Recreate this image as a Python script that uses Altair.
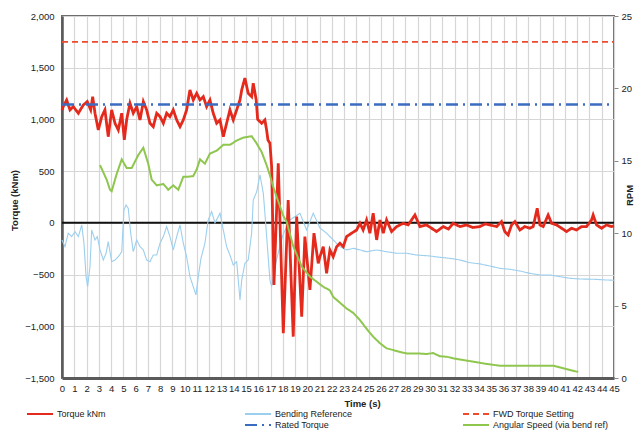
import altair as alt
import pandas as pd

# ---------------- data ----------------
time_ticks = list(range(0, 46))
torque_ticks = [-1500, -1000, -500, 0, 500, 1000, 1500, 2000]
rpm_ticks = [0, 5, 10, 15, 20, 25]

# legend entries are laid out column by column (2 rows x 3 columns)
series_names = ["Torque kNm", " ", "Bending Reference", "Rated Torque",
                "FWD Torque Setting", "Angular Speed (via bend ref)"]
series_colors = ["#e42a1c", "transparent", "#9ccfee", "#3b6cc1", "#ee4b2e", "#8ec64e"]
series_dashes = [[1, 0], [1, 0], [1, 0], [12, 5, 2, 5], [6, 4], [1, 0]]

fwd_setting = 1750
rated_torque = 1145

torque_points = [
    (0, 1090), (0.1, 1124), (0.38, 1188), (0.65, 1092), (0.92, 1124), (1.33, 1060),
    (1.74, 1140), (2.06, 1172), (2.34, 1092), (2.5, 1220), (2.69, 1060), (2.96, 898),
    (3.24, 1027), (3.5, 1092), (3.77, 833), (4.05, 1092), (4.32, 963), (4.59, 898),
    (4.87, 1060), (5.08, 802), (5.27, 995), (5.54, 1157), (5.81, 1060), (6.09, 1124),
    (6.36, 995), (6.63, 1172), (6.9, 1092), (7.17, 963), (7.44, 930), (7.72, 1060),
    (7.99, 1027), (8.26, 963), (8.53, 1060), (8.8, 1027), (9.07, 1092), (9.35, 995),
    (9.62, 930), (9.89, 995), (10.16, 1092), (10.43, 1285), (10.7, 1188), (10.98, 1253),
    (11.25, 1188), (11.52, 1220), (11.79, 1124), (12.06, 1188), (12.33, 1060), (12.61, 963),
    (12.88, 995), (13.15, 833), (13.42, 963), (13.69, 1092), (13.96, 995), (14.24, 1092),
    (14.51, 1188), (14.65, 1285), (14.91, 1400), (15.18, 1253), (15.46, 1220), (15.59, 1350),
    (15.83, 1190), (15.95, 1000), (16.28, 963), (16.54, 995), (16.68, 898), (16.79, 800),
    (16.95, 770), (17.09, 543), (17.28, -600), (17.63, 576), (18.04, -1068), (18.44, 220),
    (18.85, -1100), (19.13, 60), (19.54, -907), (19.8, -133), (20.21, -649), (20.54, -100),
    (20.89, -391), (21.03, -327), (21.3, -230), (21.57, -487), (21.84, -262), (22.11, -327),
    (22.39, -230), (22.66, -197), (22.93, -230), (23.2, -133), (23.61, -100), (24.02, -69),
    (24.29, -4), (24.55, -69), (24.83, 28), (25.1, -100), (25.37, 93), (25.65, -165),
    (25.92, 28), (26.19, -100), (26.46, 28), (26.87, -84), (27.28, -36), (27.82, -4),
    (28.22, -20), (28.77, 76), (29.18, -36), (29.72, -20), (30.1, -50), (30.54, -84),
    (31.08, -36), (31.5, -60), (31.89, -4), (32.44, -36), (32.98, -20), (33.5, -45),
    (34.07, -36), (34.5, -10), (34.88, -20), (35.43, -36), (35.83, 12), (36.1, -85),
    (36.37, -117), (36.65, -20), (36.92, 12), (37.33, -69), (37.73, -36), (38.14, -52),
    (38.41, -36), (38.74, 141), (38.96, -20), (39.23, -36), (39.63, 76), (39.91, -4),
    (40.32, -20), (40.73, -52), (41.13, -84), (41.54, -52), (41.94, -69), (42.35, -36),
    (42.76, -36), (43.17, 28), (43.3, 76), (43.58, -20), (43.98, -52), (44.39, -20),
    (44.8, -36), (45, -30),
]

bending_points = [
    (0, -165), (0.24, -230), (0.51, -100), (0.79, -133), (1.06, -85), (1.33, -133),
    (1.61, -20), (1.79, -197), (1.96, -520), (2.09, -617), (2.28, -424), (2.42, -69),
    (2.69, -165), (2.88, -133), (3.1, -262), (3.37, -359), (3.59, -294), (3.77, -182),
    (4.05, -375), (4.32, -359), (4.59, -327), (4.87, -279), (5.05, 125), (5.22, 173),
    (5.4, 141), (5.6, -100), (5.81, -279), (6.09, -165), (6.36, -230), (6.63, -262),
    (6.9, -359), (7.17, -375), (7.44, -311), (7.72, -311), (7.99, -197), (8.26, -133),
    (8.53, -36), (8.8, -133), (9.07, -262), (9.35, -133), (9.62, -20), (9.89, -197),
    (10.16, -327), (10.43, -520), (10.7, -617), (10.92, -697), (11.11, -520), (11.33, -343),
    (11.65, -197), (11.92, 28), (12.2, 108), (12.47, 0), (12.88, 93), (13.15, -69),
    (13.42, -230), (13.69, -311), (13.96, -407), (14.24, -375), (14.51, -745), (14.65, -552),
    (14.91, -391), (15.18, -359), (15.46, -100), (15.59, 220), (15.87, 300), (16.14, 463),
    (16.41, 286), (16.54, 95), (16.79, -300), (16.95, -552), (17.09, -617), (17.5, -350),
    (18.0, -120), (18.58, 28), (19.4, 93), (19.94, -69), (20.48, 93), (21.03, -50),
    (21.57, -100), (22.11, -165), (22.66, -230), (23.2, -262), (23.74, -246), (24.29, -262),
    (24.83, -279), (25.65, -262), (26.46, -279), (27.28, -294), (28.09, -294), (28.91, -311),
    (29.99, -320), (30.81, -333), (31.62, -343), (32.44, -359), (33.25, -385), (34.07, -397),
    (34.88, -417), (35.7, -440), (36.51, -449), (37.33, -465), (38.14, -488), (38.96, -504),
    (39.77, -504), (40.59, -520), (41.4, -536), (42.22, -543), (43.3, -545), (44.34, -552),
    (45.0, -555),
]

speed_points = [
    (3.1, 14.7), (3.64, 13.7), (3.91, 13.0), (4.05, 12.9), (4.46, 14.1), (4.87, 15.1),
    (5.27, 14.5), (5.68, 14.5), (6.22, 15.4), (6.63, 15.9), (7.03, 14.8), (7.31, 13.7),
    (7.72, 13.3), (8.26, 13.4), (8.66, 13.0), (9.07, 13.3), (9.48, 13.0), (9.89, 13.9),
    (10.29, 13.9), (10.7, 13.95), (10.98, 14.4), (11.25, 15.1), (11.65, 14.8), (12.06, 15.5),
    (12.61, 15.7), (13.15, 16.1), (13.69, 16.1), (14.24, 16.4), (14.78, 16.6), (15.46, 16.7),
    (15.87, 16.2), (16.28, 15.6), (16.68, 14.7), (16.95, 14.0), (17.22, 13.2), (17.63, 12.2),
    (18.04, 11.2), (18.31, 10.8), (18.85, 9.1), (19.54, 7.7), (20.21, 7.0), (20.76, 6.65),
    (21.3, 6.3), (21.84, 6.05), (22.11, 5.6), (22.66, 5.2), (23.2, 4.8), (23.74, 4.5),
    (24.29, 4.0), (24.83, 3.4), (25.37, 2.85), (25.92, 2.4), (26.46, 2.05), (27.0, 1.93),
    (27.55, 1.8), (28.09, 1.7), (28.91, 1.7), (29.72, 1.66), (30.26, 1.72), (30.81, 1.5),
    (31.35, 1.47), (31.89, 1.36), (32.71, 1.24), (33.52, 1.13), (34.61, 0.97), (35.7, 0.85),
    (36.78, 0.85), (37.87, 0.85), (39.23, 0.85), (40.04, 0.85), (40.86, 0.67), (41.67, 0.5),
    (42.08, 0.42),
]


def frame(points, name, col):
    return pd.DataFrame({"t": [p[0] for p in points],
                         col: [p[1] for p in points],
                         "series": name})


torque_df = frame(torque_points, "Torque kNm", "v")
bending_df = frame(bending_points, "Bending Reference", "v")
speed_df = frame(speed_points, "Angular Speed (via bend ref)", "rpm")
fwd_df = pd.DataFrame({"t": [0, 45], "v": [fwd_setting, fwd_setting], "series": "FWD Torque Setting"})
rated_df = pd.DataFrame({"t": [0, 45], "v": [rated_torque, rated_torque], "series": "Rated Torque"})
zero_df = pd.DataFrame({"v": [0]})

FONT = "Liberation Sans"

# ---------------- encodings ----------------
x_axis = alt.Axis(values=time_ticks, grid=True, ticks=False, labelPadding=5,
                  labelFlush=False, labelOverlap=False, domainColor="#5a5a5a",
                  domainWidth=3, title="Time (s)", titleX=300, titleY=25,
                  titleBaseline="middle")
x_enc = alt.X("t:Q", scale=alt.Scale(domain=[0, 45], nice=False, zero=False), axis=x_axis)

left_axis = alt.Axis(values=torque_ticks, format=",.0f", grid=True, ticks=False,
                     labelPadding=8, domainColor="#5a5a5a", domainWidth=2.5,
                     title="Torque (kNm)", titleX=-48, titleY=184, titleAngle=-90,
                     titleBaseline="middle", titleAlign="center")
y_left = alt.Y("v:Q", scale=alt.Scale(domain=[-1500, 2000], nice=False, zero=False),
               axis=left_axis)

right_axis = alt.Axis(orient="right", values=rpm_ticks, grid=False, ticks=True,
                      tickSize=4, tickColor="#888888", labelPadding=3, domain=False,
                      title="RPM", titleX=15, titleY=179, titleAngle=-90,
                      titleBaseline="middle", titleAlign="center")
y_right = alt.Y("rpm:Q", scale=alt.Scale(domain=[0, 25], nice=False, zero=False),
                axis=right_axis)

legend = alt.Legend(title=None, orient="none", legendX=-28, legendY=392, columns=3,
                    gridAlign="all", columnPadding=68, rowPadding=0,
                    symbolType="M-2.6,0L2.6,0", symbolSize=100, symbolStrokeWidth=2,
                    labelOffset=11, labelFontSize=9, labelFont=FONT,
                    labelColor="#222222", padding=0, labelLimit=220)
color_enc = alt.Color("series:N", scale=alt.Scale(domain=series_names, range=series_colors),
                      legend=legend)
dash_enc = alt.StrokeDash("series:N", scale=alt.Scale(domain=series_names, range=series_dashes),
                          legend=legend)

# ---------------- layers ----------------
zero_line = alt.Chart(zero_df).mark_rule(color="#111111", strokeWidth=2).encode(y=y_left)

bending = alt.Chart(bending_df).mark_line(strokeWidth=1.1).encode(
    x=x_enc, y=y_left, color=color_enc, strokeDash=dash_enc)
torque = alt.Chart(torque_df).mark_line(strokeWidth=2.8).encode(
    x=x_enc, y=y_left, color=color_enc, strokeDash=dash_enc)
fwd = alt.Chart(fwd_df).mark_line(strokeWidth=1.6).encode(
    x=x_enc, y=y_left, color=color_enc, strokeDash=dash_enc)
rated = alt.Chart(rated_df).mark_line(strokeWidth=2.4).encode(
    x=x_enc, y=y_left, color=color_enc, strokeDash=dash_enc)

left = alt.layer(zero_line, bending, torque, fwd, rated)

speed = alt.Chart(speed_df).mark_line(strokeWidth=2).encode(
    x=x_enc, y=y_right, color=color_enc, strokeDash=dash_enc)

chart = alt.layer(left, speed).resolve_scale(y="independent").properties(
    width=552, height=362,
    autosize=alt.AutoSizeParams(type="none"),
    padding={"left": 54, "top": 8, "right": 22, "bottom": 54},
).configure_view(
    stroke="#6d6d6d", strokeWidth=2
).configure_axis(
    labelFont=FONT, labelFontSize=9.5, labelColor="#222222",
    titleFont=FONT, titleFontSize=9.5, titleFontWeight="bold", titleColor="#222222",
    gridColor="#d6d6d6", gridWidth=1.2
)

chart.save("out.html", embed_options={"renderer": "svg", "actions": False})
